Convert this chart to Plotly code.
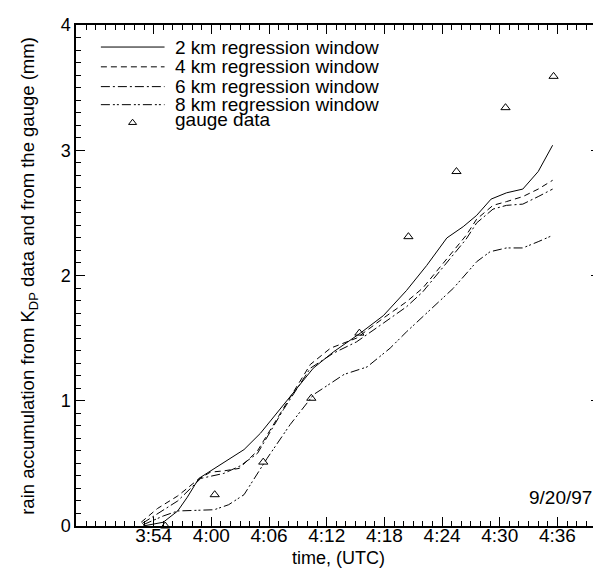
import plotly.graph_objects as go

# time in minutes after 3:00 UTC
t_2km = [52.9, 55.0, 56.5, 57.5, 58.7, 63.4, 65.1, 67.5, 70.6, 72.7, 75.5, 77.9, 80.3, 82.4, 84.5, 86.2, 87.6, 89.1, 90.7, 92.4, 94.0, 95.5]
v_2km = [0.0, 0.03, 0.12, 0.23, 0.38, 0.61, 0.74, 0.97, 1.26, 1.39, 1.54, 1.68, 1.88, 2.08, 2.30, 2.39, 2.48, 2.61, 2.66, 2.69, 2.83, 3.04]

t_4km = [52.7, 54.4, 56.5, 58.6, 59.9, 61.3, 62.9, 64.8, 67.5, 70.3, 72.4, 75.1, 77.9, 80.3, 82.0, 83.4, 85.2, 86.5, 87.6, 89.3, 90.7, 92.4, 94.0, 95.5]
v_4km = [0.03, 0.14, 0.24, 0.37, 0.43, 0.44, 0.46, 0.60, 0.94, 1.29, 1.42, 1.50, 1.66, 1.79, 1.90, 2.03, 2.19, 2.32, 2.45, 2.56, 2.59, 2.63, 2.69, 2.76]

t_6km = [52.8, 54.4, 56.5, 58.9, 61.3, 63.0, 64.8, 67.5, 70.3, 72.7, 75.1, 77.9, 80.3, 82.0, 83.4, 85.2, 86.5, 87.6, 89.3, 90.7, 92.4, 94.0, 95.5]
v_6km = [0.02, 0.10, 0.20, 0.38, 0.42, 0.48, 0.58, 0.93, 1.26, 1.38, 1.47, 1.62, 1.75, 1.87, 2.00, 2.16, 2.29, 2.42, 2.53, 2.56, 2.57, 2.63, 2.69]

t_8km = [52.9, 55.0, 56.5, 60.3, 61.8, 63.4, 65.8, 68.2, 70.65, 73.8, 76.2, 78.6, 80.3, 85.2, 87.6, 89.0, 90.7, 92.4, 94.0, 95.5]
v_8km = [0.01, 0.08, 0.12, 0.13, 0.17, 0.25, 0.54, 0.81, 1.05, 1.21, 1.27, 1.42, 1.55, 1.90, 2.11, 2.19, 2.22, 2.22, 2.27, 2.32]

t_gauge = [55.2, 60.35, 65.4, 70.4, 75.4, 80.5, 85.5, 90.6, 95.6]
v_gauge = [0.0, 0.25, 0.51, 1.02, 1.54, 2.31, 2.83, 3.34, 3.59]

tick_minutes = [54, 60, 66, 72, 78, 84, 90, 96]
tick_labels = ["3:54", "4:00", "4:06", "4:12", "4:18", "4:24", "4:30", "4:36"]

series_names = ["2 km regression window", "4 km regression window",
                "6 km regression window", "8 km regression window"]
gauge_name = "gauge data"
x_title = "time, (UTC)"
y_title = "rain accumulation from K<sub>DP</sub> data and from the gauge (mm)"
date_note = "9/20/97"

FONT = "Liberation Sans, Arial, Helvetica, sans-serif"
dashes = ["solid", "6px,4px", "9px,3px,2px,3px", "9px,3px,2px,2px,2px,3px"]

fig = go.Figure()
for t, v, d, n in zip([t_2km, t_4km, t_6km, t_8km], [v_2km, v_4km, v_6km, v_8km], dashes, series_names):
    fig.add_trace(go.Scatter(x=t, y=v, mode="lines", name=n,
                             line=dict(color="black", width=1, dash=d), showlegend=False))
fig.add_trace(go.Scatter(x=t_gauge, y=v_gauge, mode="markers", name=gauge_name,
                         marker=dict(symbol="triangle-up-open", size=8, color="black",
                                     line=dict(width=1, color="black")),
                         cliponaxis=False, showlegend=False))

# hand-drawn legend on an overlay axis in [0,1]
leg_y = [0.956, 0.9165, 0.877, 0.841]
for yy, d in zip(leg_y, dashes):
    fig.add_trace(go.Scatter(x=[0.0475, 0.169], y=[yy, yy], mode="lines",
                             line=dict(color="black", width=1, dash=d),
                             xaxis="x2", yaxis="y2", showlegend=False, hoverinfo="skip"))
fig.add_trace(go.Scatter(x=[0.108], y=[0.805], mode="markers",
                         marker=dict(symbol="triangle-up-open", size=7, color="black",
                                     line=dict(width=1, color="black")),
                         xaxis="x2", yaxis="y2", showlegend=False, hoverinfo="skip"))
annotations = []
for yy, n in zip(leg_y + [0.812], series_names + [gauge_name]):
    annotations.append(dict(x=0.186, y=yy, xref="paper", yref="paper", text=n,
                            showarrow=False, xanchor="left", yanchor="middle",
                            font=dict(family=FONT, size=19, color="black")))
annotations.append(dict(x=0.9886, y=0.0577, xref="paper", yref="paper", text=date_note,
                        showarrow=False, xanchor="right", yanchor="middle",
                        font=dict(family=FONT, size=19, color="black")))
annotations.append(dict(x=0.5, y=-0.063, xref="paper", yref="paper", text=x_title,
                        showarrow=False, xanchor="center", yanchor="middle",
                        font=dict(family=FONT, size=18, color="black")))
annotations.append(dict(x=-0.091, y=0.5, xref="paper", yref="paper", text=y_title,
                        textangle=-90, showarrow=False, xanchor="center", yanchor="middle",
                        font=dict(family=FONT, size=18.5, color="black")))

fig.update_layout(
    width=601, height=571,
    margin=dict(l=68, r=7, t=15, b=53),
    plot_bgcolor="white", paper_bgcolor="white",
    font=dict(family=FONT, size=19, color="black"),
    annotations=annotations,
    xaxis=dict(range=[45.92, 100.43], tickmode="array", tickvals=tick_minutes, ticktext=tick_labels,
               ticks="inside", ticklen=9, tickwidth=1, tickcolor="black",
               showline=True, linewidth=1.5, linecolor="black", mirror="allticks",
               showgrid=False, zeroline=False, ticklabelstandoff=-9,
               minor=dict(tickmode="linear", tick0=54, dtick=1, ticks="inside", ticklen=5,
                          tickwidth=1, tickcolor="black", showgrid=False),
               tickfont=dict(family=FONT, size=19)),
    yaxis=dict(range=[0, 4], tickmode="linear", tick0=0, dtick=1,
               ticks="inside", ticklen=9, tickwidth=1, tickcolor="black",
               showline=True, linewidth=1.5, linecolor="black", mirror="allticks",
               showgrid=False, zeroline=False,
               minor=dict(tickmode="linear", tick0=0, dtick=0.1, ticks="inside", ticklen=5,
                          tickwidth=1, tickcolor="black", showgrid=False),
               tickfont=dict(family=FONT, size=18)),
    xaxis2=dict(overlaying="x", range=[0, 1], visible=False),
    yaxis2=dict(overlaying="y", range=[0, 1], visible=False),
)

fig.write_html("out.html")
